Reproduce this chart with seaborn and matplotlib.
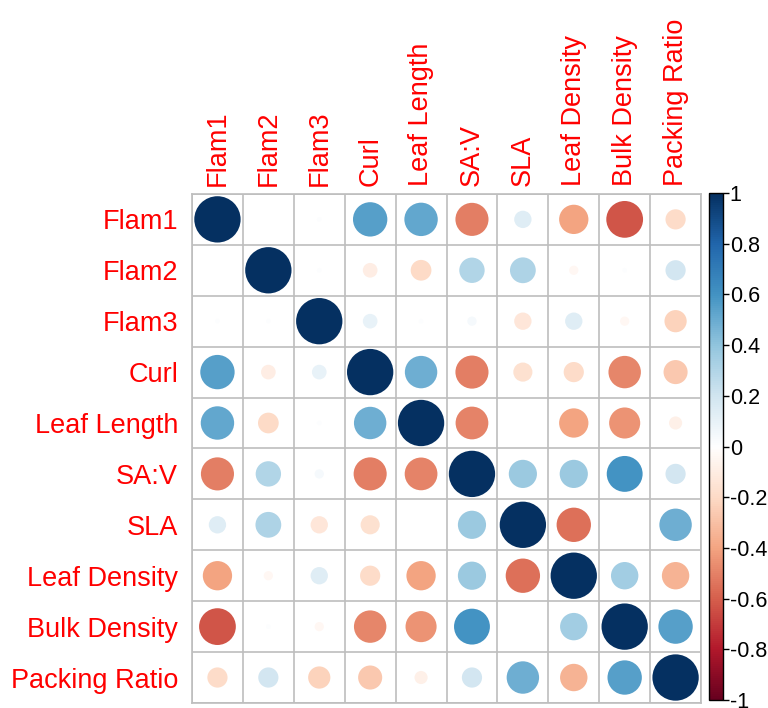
import numpy as np
import pandas as pd
import seaborn as sns
import matplotlib.pyplot as plt
from matplotlib.colors import LinearSegmentedColormap, Normalize
from matplotlib.cm import ScalarMappable

variables = ['Flam1', 'Flam2', 'Flam3', 'Curl', 'Leaf Length', 'SA:V', 'SLA',
             'Leaf Density', 'Bulk Density', 'Packing Ratio']

# upper triangle of the correlation matrix, one list per row (from the diagonal on)
flam1 = [1, 0.00, 0.01, 0.55, 0.52, -0.51, 0.14, -0.40, -0.63, -0.19]
flam2 = [1, 0.01, -0.10, -0.20, 0.30, 0.31, -0.04, 0.01, 0.19]
flam3 = [1, 0.10, 0.01, 0.04, -0.14, 0.14, -0.04, -0.23]
curl = [1, 0.49, -0.51, -0.17, -0.19, -0.49, -0.27]
leaf_length = [1, -0.50, 0.00, -0.40, -0.45, -0.08]
sa_v = [1, 0.37, 0.37, 0.60, 0.19]
sla = [1, -0.55, 0.00, 0.49]
leaf_density = [1, 0.35, -0.35]
bulk_density = [1, 0.55]
packing_ratio = [1]

rows = [flam1, flam2, flam3, curl, leaf_length, sa_v, sla, leaf_density,
        bulk_density, packing_ratio]
n = len(variables)
corr = np.zeros((n, n))
for i, vals in enumerate(rows):
    corr[i, i:] = vals
    corr[i:, i] = vals

df = pd.DataFrame([(j, i, corr[i, j]) for i in range(n) for j in range(n)],
                  columns=['col', 'row', 'r'])
df['absr'] = df['r'].abs()

cmap = LinearSegmentedColormap.from_list('corr', [
    '#67001F', '#B2182B', '#D6604D', '#F4A582', '#FDDBC7', '#FFFFFF',
    '#D1E5F0', '#92C5DE', '#4393C3', '#2166AC', '#053061'])

plt.rcParams['font.family'] = ['Liberation Sans', 'DejaVu Sans']
fig = plt.figure(figsize=(7.68, 7.08), dpi=100)
ax = fig.add_axes([0.25, 0.0071, 0.6628, 0.719])

cell_pt = 0.6628 * 7.68 * 72 / n
smax = (0.91 * cell_pt) ** 2

sns.scatterplot(data=df, x='col', y='row', hue='r', palette=cmap, hue_norm=(-1, 1),
                size='absr', sizes=(0, smax), size_norm=(0, 1), linewidth=0,
                legend=False, ax=ax, zorder=3)

ax.set_xlim(-0.5, n - 0.5)
ax.set_ylim(n - 0.5, -0.5)
ax.set_xticks(range(n))
ax.set_yticks(range(n))
ax.set_xticklabels(variables, rotation=90, color='red', fontsize=19.5)
ax.set_yticklabels(variables, color='red', fontsize=19.5)
ax.xaxis.tick_top()
ax.tick_params(length=0)
ax.tick_params(axis='x', pad=6)
ax.tick_params(axis='y', pad=10)
ax.set_xticks(np.arange(-0.5, n, 1), minor=True)
ax.set_yticks(np.arange(-0.5, n, 1), minor=True)
ax.tick_params(which='minor', length=0)
ax.grid(which='minor', color='#BEBEBE', linewidth=1.2)
ax.grid(which='major', visible=False)
for s in ax.spines.values():
    s.set_color('#BEBEBE')
    s.set_linewidth(1.2)
ax.set_xlabel('')
ax.set_ylabel('')

cax = fig.add_axes([0.923, 0.0113, 0.018, 0.716])
cb = fig.colorbar(ScalarMappable(norm=Normalize(-1, 1), cmap=cmap), cax=cax)
ticks = np.round(np.arange(-1, 1.01, 0.2), 1)
cb.set_ticks(ticks)
cb.set_ticklabels(['%g' % t if t != 0 else '0' for t in ticks])
cb.ax.tick_params(labelsize=15.5, length=4, width=1, pad=1)
cb.outline.set_linewidth(1)

fig.savefig('out.png', dpi=100)
